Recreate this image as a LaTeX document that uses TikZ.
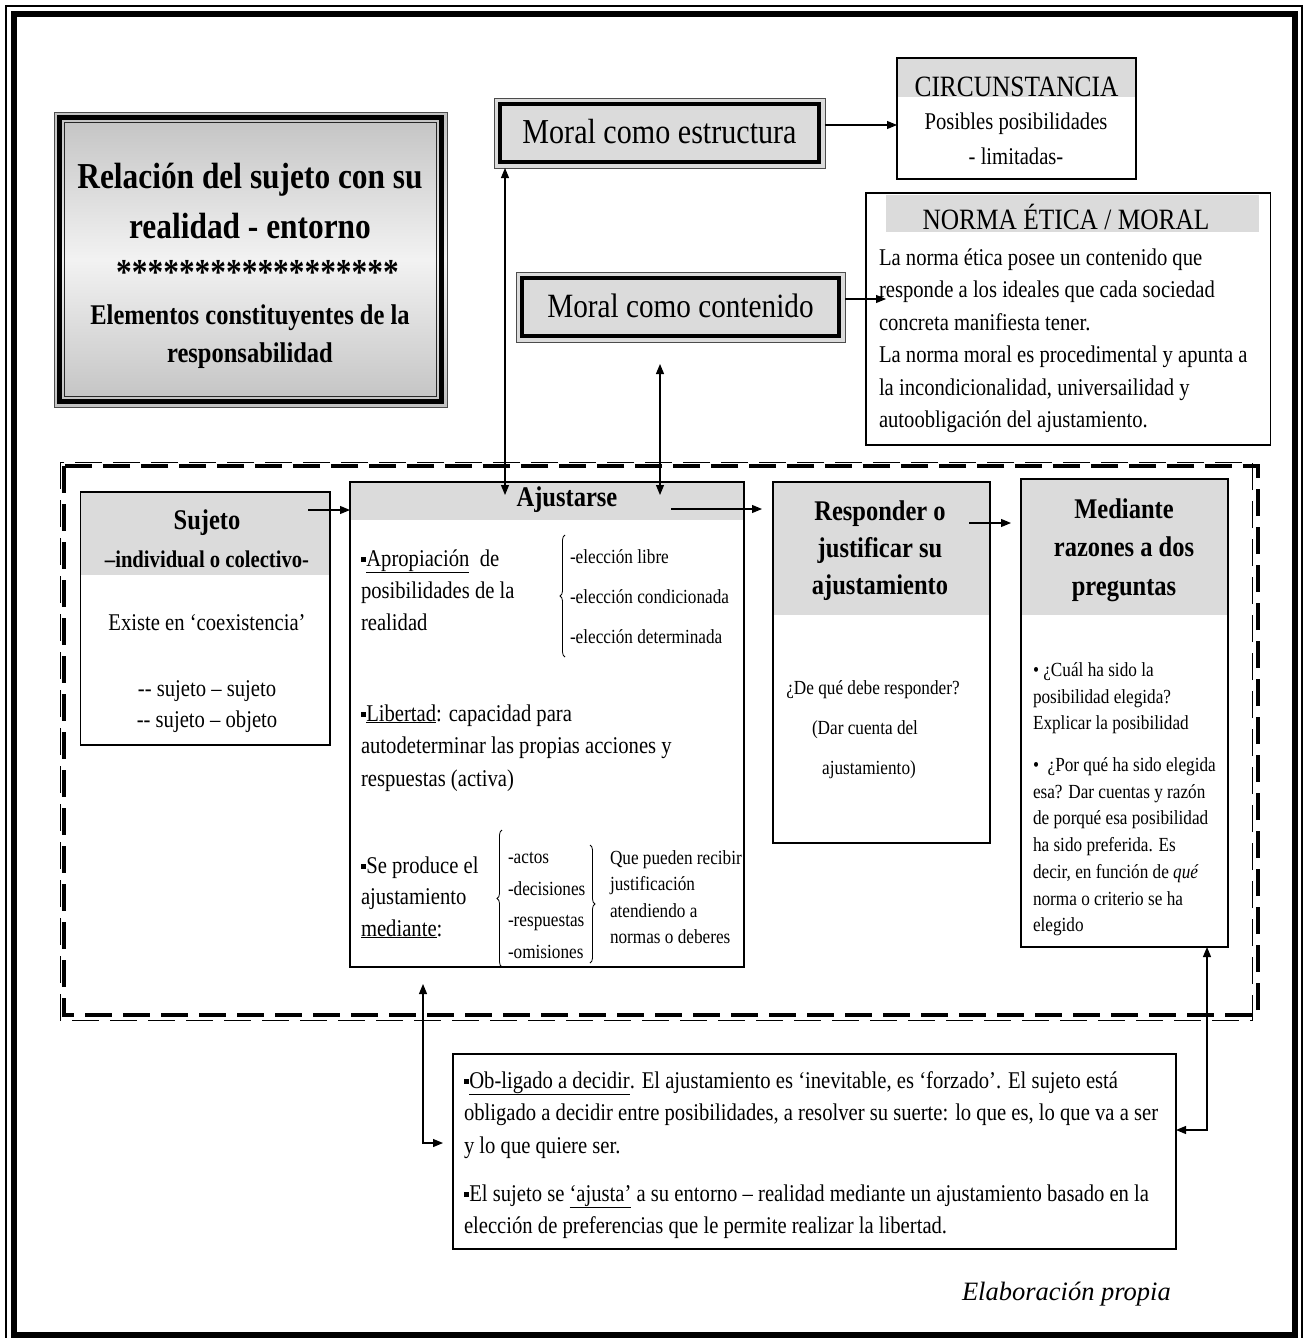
\documentclass[tikz,border=0pt]{standalone}
\usepackage{fontspec}
\setmainfont{Liberation Serif}[FakeStretch=0.86]
\newfontfamily\elabfont{Liberation Serif}
\usetikzlibrary{arrows.meta,decorations.pathreplacing}
\definecolor{hdrgray}{gray}{0.86}
\newcommand\fsz[2]{\fontsize{#1}{#2}\selectfont}
\newcommand\fstrut{\rule{0pt}{0.8em}}
\newcommand\sqb{\raisebox{0.17em}{\rule{0.22em}{0.22em}}}
\begin{document}
\begin{tikzpicture}[x=1pt,y=-1pt,
  box/.style={draw=black, line width=1.4, inner sep=0, outer sep=0},
  hdr/.style={path picture={\fill[hdrgray] (path picture bounding box.north west) rectangle ([yshift=-#1]path picture bounding box.north east);}},
  ln/.style={inner sep=0, outer sep=0, anchor=base},
  para/.style={inner sep=0, outer sep=0, anchor=north west, align=left},
  arr/.style={line width=1.1, -{Triangle[length=10pt,width=8pt]}},
  darr/.style={line width=1.1, {Triangle[length=10pt,width=8pt]}-{Triangle[length=10pt,width=8pt]}},
  brc/.style={decorate, decoration={brace, amplitude=5pt}, line width=0.8},
]
\useasboundingbox (0,0) rectangle (1308,1338);
% page frame
\draw[line width=1.2] (6,6) rectangle (1302,1342);
\draw[line width=6] (14,14) rectangle (1294.5,1335);

% title box
\node[minimum width=393pt, minimum height=295pt, inner sep=0, outer sep=0, draw=black!70, line width=1, top color=black!24, bottom color=black!24, middle color=black!5] (title) at (250.5,259.5) {};
\draw[line width=5] ([shift={(5.5,5.5)}]title.north west) rectangle ([shift={(-5.5,-5.5)}]title.south east);
\draw[line width=1.2, black!85] ([shift={(10.5,10.5)}]title.north west) rectangle ([shift={(-10.5,-10.5)}]title.south east);
\node[ln, font=\bfseries\fsz{36.5}{40}] (t1) at (250,188.7) {Relación del sujeto con su};
\node[ln, font=\bfseries\fsz{36.5}{40}] (t2) at (250,238.7) {realidad - entorno};
\node[ln, font=\bfseries\fsz{36.5}{40}] (t3) at (257.5,284) {******************};
\node[ln, font=\bfseries\fsz{28.5}{32}] (t4) at (250,324.1) {Elementos constituyentes de la};
\node[ln, font=\bfseries\fsz{28.5}{32}] (t5) at (250,362.1) {responsabilidad};

% moral como estructura
\node[box, draw=black!70, line width=1, fill=hdrgray, minimum width=331pt, minimum height=70pt] (mest) at (659.5,133) {};
\draw[line width=4] ([shift={(6,6)}]mest.north west) rectangle ([shift={(-6,-6)}]mest.south east);
\node[ln, font=\fsz{35}{40}] (mestt) at (659.5,143.2) {Moral como estructura};

% moral como contenido
\node[box, draw=black!70, line width=1, fill=hdrgray, minimum width=329pt, minimum height=70pt] (mcon) at (680.5,307) {};
\draw[line width=4] ([shift={(6,6)}]mcon.north west) rectangle ([shift={(-6,-6)}]mcon.south east);
\node[ln, font=\fsz{34}{40}] (mcont) at (680.5,317.9) {Moral como contenido};

% circunstancia
\node[box, hdr=39pt, minimum width=239pt, minimum height=121pt] (circ) at (1016.5,118.5) {};
\node[ln, font=\fsz{29.5}{34}] (circt) at (1016.5,96.4) {CIRCUNSTANCIA};
\node[ln, font=\fsz{24}{30}] (circb1) at (1016,129.7) {Posibles posibilidades};
\node[ln, font=\fsz{24}{30}] (circb2) at (1016,164.7) {- limitadas-};

% norma
\fill[hdrgray] (886,195) rectangle (1259,232);
\node[box, minimum width=404.5pt, minimum height=252pt] (norma) at (1068.25,319) {};
\node[ln, font=\fsz{29.5}{34}] (normat) at (1066,229.4) {NORMA ÉTICA / MORAL};
\node[para, font=\fsz{24}{32.4}] (normab) at (879,246.3) {\fstrut La norma ética posee un contenido que\\responde a los ideales que cada sociedad\\concreta manifiesta tener.\\La norma moral es procedimental y apunta a\\la incondicionalidad, universailidad y\\autoobligación del ajustamiento.};

% dashed frame
\draw[line width=1, dash pattern=on 27pt off 11pt] (60,462) rectangle (1252,1020);
\draw[line width=3.2, dash pattern=on 27pt off 11pt] (64,466) rectangle (1258,1015);

% sujeto
\node[box, hdr=83pt, minimum width=249.5pt, minimum height=253pt] (suj) at (205.25,618.5) {};
\node[ln, font=\bfseries\fsz{28.5}{32}] (sujt) at (207,529.1) {Sujeto};
\node[ln, font=\bfseries\fsz{24}{30}] (sujs) at (207,567.7) {–individual o colectivo-};
\node[ln, font=\fsz{24}{30}] (sujb1) at (207,630.7) {Existe en ‘coexistencia’};
\node[ln, font=\fsz{24}{30}] (sujb2) at (207,696.7) {-{}- sujeto – sujeto};
\node[ln, font=\fsz{24}{30}] (sujb3) at (207,727.7) {-{}- sujeto – objeto};

% ajustarse
\node[box, hdr=38pt, minimum width=394pt, minimum height=485pt] (ajus) at (547,724.5) {};
\node[ln, font=\bfseries\fsz{28.5}{32}] (ajust) at (567,506.1) {Ajustarse};
\node[para, font=\fsz{24}{32}] (apr) at (361,546.8) {\fstrut\sqb\underline{Apropiación}\ \ de\\posibilidades de la\\realidad};
\node[para, font=\fsz{20}{40}] (elec) at (570,547.5) {\fstrut-elección libre\\-elección condicionada\\-elección determinada};
\draw[brc] (565,657) -- (565,535);
\node[para, font=\fsz{24}{32.5}] (libe) at (361,701.8) {\fstrut\sqb\underline{Libertad}: capacidad para\\autodeterminar las propias acciones y\\respuestas (activa)};
\node[para, font=\fsz{24}{31.5}] (sepr) at (361,853.8) {\fstrut\sqb Se produce el\\ajustamiento\\\underline{mediante}:};
\draw[brc] (502,967) -- (502,830);
\node[para, font=\fsz{20}{31.7}] (acts) at (508,847.5) {\fstrut-actos\\-decisiones\\-respuestas\\-omisiones};
\draw[brc] (590,845) -- (590,963);
\node[para, font=\fsz{20}{26.3}] (quep) at (610,848.5) {\fstrut Que pueden recibir\\justificación\\atendiendo a\\normas o deberes};

% responder
\node[box, hdr=133pt, minimum width=217pt, minimum height=361pt] (resp) at (881.5,662.5) {};
\node[para, anchor=north, align=center, font=\bfseries\fsz{28.5}{37}] (respt) at (880,497.5) {\fstrut Responder o\\justificar su\\ajustamiento};
\node[ln, font=\fsz{20}{26}] (respb1) at (873,694.4) {¿De qué debe responder?};
\node[ln, font=\fsz{20}{26}] (respb2) at (865,734.4) {(Dar cuenta del};
\node[ln, font=\fsz{20}{26}] (respb3) at (869,774.4) {ajustamiento)};

% mediante
\node[box, hdr=136pt, minimum width=207pt, minimum height=468pt] (med) at (1124.5,713) {};
\node[para, anchor=north, align=center, font=\bfseries\fsz{28.5}{38.5}] (medt) at (1124,495.5) {\fstrut Mediante\\razones a dos\\preguntas};
\node[para, font=\fsz{20}{26.5}] (medq1) at (1033,660.5) {\fstrut•\ ¿Cuál ha sido la\\posibilidad elegida?\\Explicar la posibilidad};
\node[para, font=\fsz{20}{26.7}] (medq2) at (1033,755.5) {\fstrut•\ \ ¿Por qué ha sido elegida\\esa? Dar cuentas y razón\\de porqué esa posibilidad\\ha sido preferida. Es\\decir, en función de \textit{qué}\\norma o criterio se ha\\elegido};

% bottom box
\node[box, minimum width=723pt, minimum height=195pt] (bot) at (814.5,1151.5) {};
\node[para, font=\fsz{24}{32.5}] (botp1) at (464,1068.8) {\fstrut\sqb\underline{Ob-ligado a decidir}. El ajustamiento es ‘inevitable, es ‘forzado’. El sujeto está\\obligado a decidir entre posibilidades, a resolver su suerte: lo que es, lo que va a ser\\y lo que quiere ser.};
\node[para, font=\fsz{24}{32}] (botp2) at (464,1181.8) {\fstrut\sqb El sujeto se \underline{‘ajusta’} a su entorno – realidad mediante un ajustamiento basado en la\\elección de preferencias que le permite realizar la libertad.};

\node[anchor=base east, inner sep=0, font=\elabfont\itshape\fsz{26.5}{30}] (elab) at (1171,1300.5) {Elaboración propia};

% connectors
\draw[arr] ([yshift=8pt]mest.east) -- ([yshift=8pt]mest.east -| circ.west);
\coordinate (n1) at (886,299);
\draw[arr] (mcon.east |- n1) -- (n1);
\coordinate (v1) at (505,495);
\draw[darr] (mest.south -| v1) -- (v1);
\coordinate (v2a) at (660,364);
\coordinate (v2b) at (660,495);
\draw[darr] (v2a) -- (v2b);
\coordinate (s1) at (308,510);
\draw[arr] (s1) -- (s1 -| ajus.west);
\coordinate (a1) at (671,509);
\coordinate (a2) at (762,509);
\draw[arr] (a1) -- (a2);
\coordinate (r1) at (969,523);
\coordinate (r2) at (1011,523);
\draw[arr] (r1) -- (r2);
\coordinate (m1) at (1207,1130);
\draw[darr] (med.south -| m1) |- (bot.east |- m1);
\coordinate (j0) at (423,984);
\coordinate (j1) at (443,1143);
\draw[darr] (j0) |- (j1);
\end{tikzpicture}
\end{document}
